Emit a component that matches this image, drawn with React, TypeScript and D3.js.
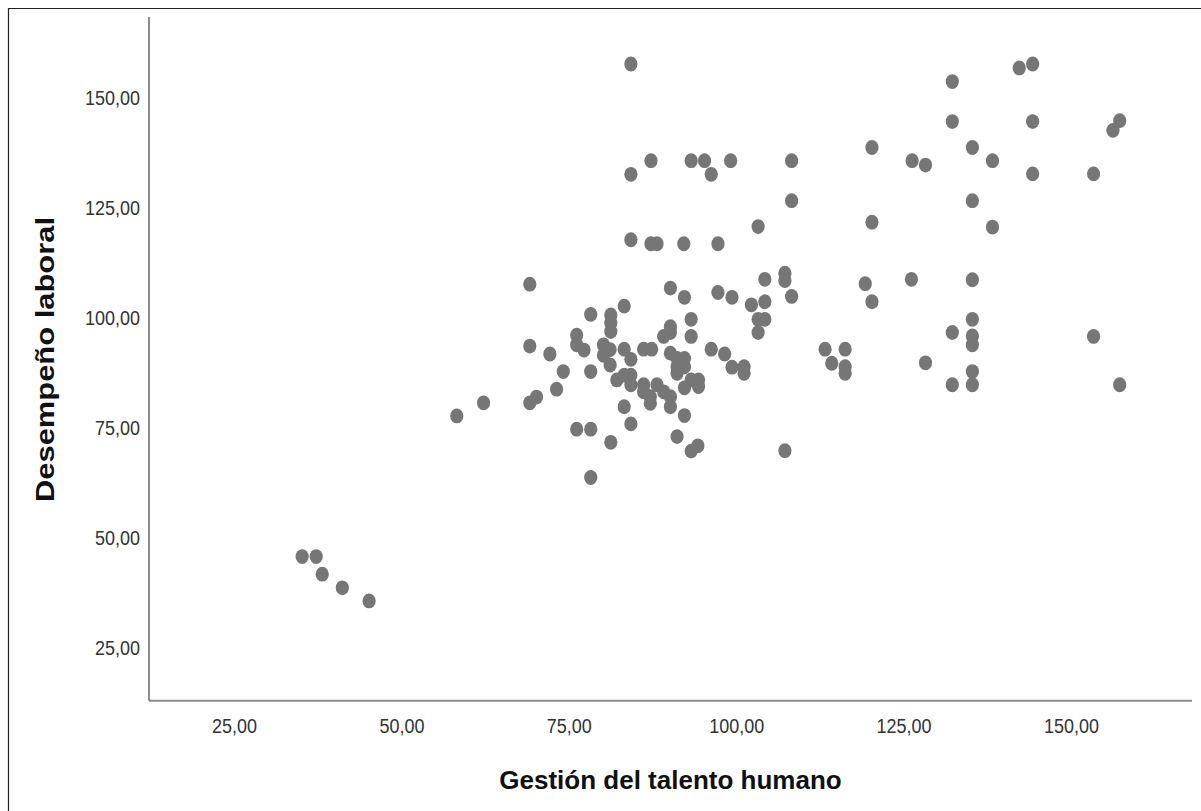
import React from "react";
import * as d3 from "d3";

// Gestión del talento humano (x) and Desempeño laboral (y)
const gestion: number[] = [
  35.1, 37.2, 38.1, 41.1, 45.1, 58.2, 62.2, 69.1, 69.1, 69.1,
  70.1, 72.1, 73.1, 74.1, 76.1, 76.1, 77.2, 76.1, 78.2, 78.2,
  78.2, 78.2, 81.2, 81.2, 81.2, 80.1, 81.1, 80.1, 81.1, 82.1,
  83.2, 81.2, 83.2, 83.2, 84.2, 86.1, 87.3, 90.1, 89.1, 90.1,
  93.2, 93.2, 90.1, 91.1, 92.2, 91.1, 92.2, 91.1, 93.2, 94.3,
  92.2, 94.3, 96.2, 98.2, 99.3, 101.1, 101.1, 83.2, 84.2, 84.2,
  86.1, 86.1, 87.1, 87.1, 88.1, 89.1, 90.1, 90.1, 84.2, 91.1,
  92.2, 93.2, 94.2, 107.2, 90.1, 92.2, 97.2, 99.3, 104.2, 104.2,
  102.2, 103.2, 104.2, 103.2, 107.2, 107.2, 108.2, 119.2, 120.2, 126.1,
  113.2, 116.2, 114.2, 116.2, 116.2, 128.2, 84.2, 84.2, 87.2, 93.2,
  95.2, 96.2, 99.1, 108.2, 108.2, 103.2, 84.2, 87.2, 88.1, 92.1,
  97.2, 132.2, 142.2, 144.2, 132.2, 144.2, 157.2, 156.2, 135.2, 126.2,
  128.2, 138.2, 144.2, 153.3, 135.2, 138.2, 135.2, 135.2, 132.2, 135.2,
  135.2, 153.3, 135.2, 132.2, 135.2, 157.2, 120.2, 120.2,
];

const desempeno: number[] = [
  45.6, 45.6, 41.6, 38.5, 35.5, 77.6, 80.6, 107.6, 93.5, 80.6,
  81.9, 91.7, 83.7, 87.7, 96.0, 93.8, 92.6, 74.6, 74.6, 100.7,
  87.7, 63.6, 100.6, 98.8, 96.8, 93.8, 92.7, 91.4, 89.2, 85.8,
  79.7, 71.6, 102.6, 92.8, 90.5, 92.8, 92.8, 96.6, 95.7, 97.9,
  99.6, 95.7, 91.9, 90.7, 90.7, 88.8, 88.8, 87.3, 85.8, 85.8,
  84.0, 84.3, 92.8, 91.7, 88.7, 88.8, 87.3, 86.9, 86.9, 84.7,
  84.7, 83.1, 82.0, 80.5, 84.7, 83.1, 82.0, 79.7, 75.8, 72.9,
  77.7, 69.6, 70.8, 69.7, 106.7, 104.6, 105.7, 104.6, 108.7, 103.6,
  102.9, 99.6, 99.6, 96.6, 110.1, 108.4, 104.8, 107.7, 103.6, 108.7,
  92.8, 92.8, 89.6, 88.8, 87.3, 89.7, 157.7, 132.6, 135.7, 135.7,
  135.7, 132.6, 135.7, 135.7, 126.6, 120.7, 117.7, 116.8, 116.8, 116.8,
  116.8, 153.7, 156.8, 157.7, 144.6, 144.6, 144.8, 142.6, 138.7, 135.7,
  134.7, 135.7, 132.7, 132.7, 126.6, 120.6, 108.6, 99.6, 96.6, 95.8,
  93.8, 95.7, 87.7, 84.7, 84.7, 84.7, 138.7, 121.7,
];

const xTicks: number[] = [25, 50, 75, 100, 125, 150];
const yTicks: number[] = [25, 50, 75, 100, 125, 150];
const xTitle = "Gestión del talento humano";
const yTitle = "Desempeño laboral";

const fmt = (v: number) => v.toFixed(2).replace(".", ",");

export default function App() {
  const W = 1201;
  const H = 811;
  const left = 149;
  const right = 1192;
  const top = 17;
  const bottom = 700.7;

  const x = d3.scaleLinear().domain([12.23, 168]).range([left, right]);
  const y = d3.scaleLinear().domain([12.8, 168.4]).range([bottom, top]);

  const pts = gestion.map((g, i) => ({ g, d: desempeno[i] }));

  return (
    <svg
      width={W}
      height={H}
      style={{ position: "absolute", left: 0, top: 0, background: "#fff" }}
      fontFamily="'Liberation Sans', Arial, sans-serif"
    >
      <rect x={0} y={0} width={W} height={H} fill="#fff" />
      {/* outer frame (top and left) */}
      <line x1={8} y1={8.5} x2={W} y2={8.5} stroke="#222" strokeWidth={1.2} />
      <line x1={8.5} y1={8} x2={8.5} y2={H} stroke="#222" strokeWidth={1.2} />

      {/* axes */}
      <line x1={left} y1={top} x2={left} y2={bottom} stroke="#666" strokeWidth={1.5} />
      <line x1={left} y1={bottom} x2={right} y2={bottom} stroke="#8a8a8a" strokeWidth={2} />

      {/* y tick labels */}
      {yTicks.map((t) => (
        <text
          key={"y" + t}
          transform={`translate(140,${y(t) + 7.5}) scale(1,1.15)`}
          textAnchor="end"
          fontSize={18}
          fill="#333"
        >
          {fmt(t)}
        </text>
      ))}

      {/* x tick labels */}
      {xTicks.map((t) => (
        <text
          key={"x" + t}
          transform={`translate(${x(t)},733) scale(1,1.15)`}
          textAnchor="middle"
          fontSize={18}
          fill="#333"
        >
          {fmt(t)}
        </text>
      ))}

      {/* axis titles */}
      <text
        x={(left + right) / 2}
        y={789}
        textAnchor="middle"
        fontSize={26}
        fontWeight="bold"
        fill="#111"
      >
        {xTitle}
      </text>
      <text
        transform={`translate(54,${(217 + 502) / 2}) rotate(-90)`}
        textAnchor="middle"
        fontSize={25}
        fontWeight="bold"
        fill="#111"
        textLength={285}
        lengthAdjust="spacingAndGlyphs"
      >
        {yTitle}
      </text>

      {/* points */}
      {pts.map((p, i) => (
        <ellipse
          key={i}
          cx={x(p.g)}
          cy={y(p.d)}
          rx={6.6}
          ry={7.4}
          fill="#767676"
        />
      ))}
    </svg>
  );
}
